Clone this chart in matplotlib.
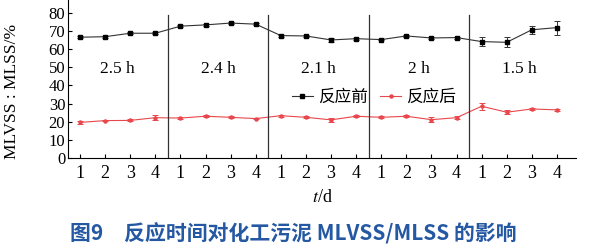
import matplotlib.pyplot as plt
import numpy as np

plt.rcParams["font.family"] = ["Liberation Serif", "Noto Sans CJK SC"]
plt.rcParams["mathtext.fontset"] = "stix"

# 反应时间分组
groups = ["2.5 h", "2.4 h", "2.1 h", "2 h", "1.5 h"]
days = [1, 2, 3, 4]

# MLVSS/MLSS (%)
before = [66.5, 66.8, 68.7, 68.7, 72.6, 73.3, 74.3, 73.7, 67.4, 67.2,
          65.0, 65.7, 65.2, 67.2, 66.1, 66.3, 64.1, 63.7, 70.6, 71.8]
before_err = [0.6, 0.5, 0.6, 0.6, 0.5, 0.5, 0.5, 0.5, 0.5, 0.5,
              0.9, 0.5, 0.5, 0.5, 0.5, 0.5, 2.6, 2.8, 2.2, 3.8]
after = [19.6, 20.6, 20.7, 22.2, 22.0, 23.0, 22.4, 21.7, 23.3, 22.4,
         21.0, 23.0, 22.4, 23.0, 21.1, 22.2, 28.5, 25.2, 27.0, 26.5]
after_err = [0.8, 0.5, 0.5, 1.3, 0.5, 0.6, 0.5, 0.5, 0.5, 0.5,
             1.3, 0.5, 0.5, 0.5, 1.4, 0.8, 1.8, 1.1, 0.5, 0.5]

x = np.arange(len(before))

fig = plt.figure(figsize=(5.91, 2.5), dpi=100)
ax = fig.add_axes([68 / 591, 92 / 250, 508 / 591, 158 / 250])

ax.errorbar(x, before, yerr=before_err, fmt="none", capsize=2,
            elinewidth=0.7, capthick=0.7, ecolor="#333333")
ax.plot(x, before, color="#333333", lw=0.8, marker="s", ms=3,
        mfc="black", mec="black", label="反应前")
ax.errorbar(x, after, yerr=after_err, fmt="none", capsize=2,
            elinewidth=0.7, capthick=0.7, ecolor="#e8474c")
ax.plot(x, after, color="#e8474c", lw=0.8, marker="o", ms=2.2,
        mfc="#e8474c", mec="#e8474c", label="反应后")

# 分组分隔线
for b in [3.5, 7.5, 11.5, 15.5]:
    ax.plot([b, b], [0, 79], color="#333333", lw=0.9)

for i, g in enumerate(groups):
    ax.text(4 * i + 1.5, 49, g, ha="center", va="center", fontsize=12.5)

ax.set_xlim(-0.48, 19.76)
ax.set_ylim(0, 87)
ax.set_xticks(x)
ax.set_xticklabels([str(d) for d in days] * len(groups), fontsize=13)
ax.set_yticks(range(0, 81, 10))
ax.tick_params(axis="y", direction="in", length=3, labelsize=12, pad=2)
ax.tick_params(axis="x", direction="in", length=3, labelsize=13, pad=5)
for s in ["top", "right"]:
    ax.spines[s].set_visible(False)

ax.set_ylabel("MLVSS : MLSS/%", fontsize=12.5)
ax.yaxis.set_label_coords(-0.094, 0.42)
ax.set_xlabel("$t$/d", fontsize=13, labelpad=5)

ax.legend(loc="center left", bbox_to_anchor=(0.44, 0.385), ncol=2, frameon=False,
          handlelength=1.3, handletextpad=0.3, columnspacing=0.7,
          borderpad=0, borderaxespad=0,
          prop={"family": ["Noto Sans CJK SC"], "size": 12})

fig.text(0.497, 0.064, "图9　反应时间对化工污泥 MLVSS/MLSS 的影响", ha="center",
         va="center", fontsize=15, color="#2558a3", fontweight="bold",
         family=["Noto Sans CJK SC"])

fig.savefig("out.png", dpi=100)
